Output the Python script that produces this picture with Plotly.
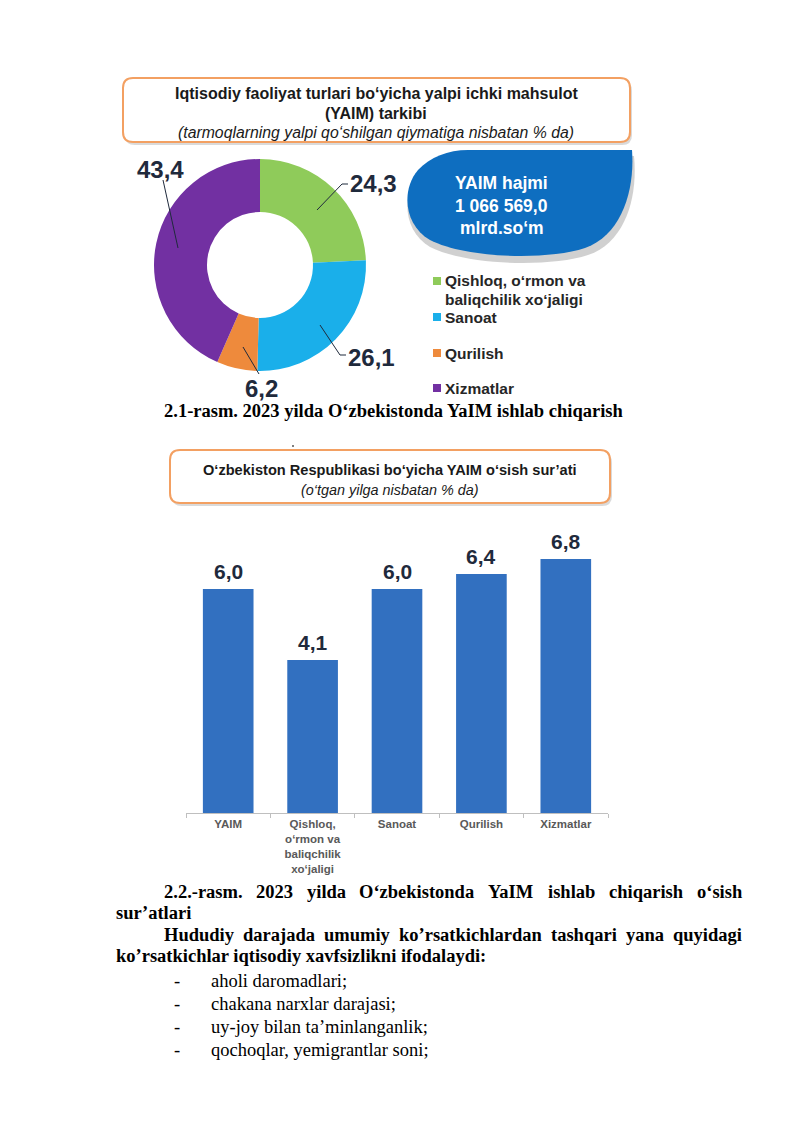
import plotly.graph_objects as go

W, H = 800, 1131


def X(px):
    return px / W


def Y(py):
    return 1 - py / H


# ---------------- data ----------------
pie_labels = ["Qishloq, o‘rmon va baliqchilik xo‘jaligi", "Sanoat", "Qurilish", "Xizmatlar"]
pie_values = [24.3, 26.1, 6.2, 43.4]
pie_colors = ["#8FCB5A", "#1AAFEA", "#EE8A3C", "#7230A2"]
legend_lines = [["Qishloq, o‘rmon va", "baliqchilik xo‘jaligi"], ["Sanoat"], ["Qurilish"], ["Xizmatlar"]]

bar_categories = ["YAIM", "Qishloq, o‘rmon va baliqchilik xo‘jaligi", "Sanoat", "Qurilish", "Xizmatlar"]
bar_values = [6.0, 4.1, 6.0, 6.4, 6.8]
bar_ticktext = ["YAIM", "Qishloq,<br>o‘rmon va<br>baliqchilik<br>xo‘jaligi", "Sanoat", "Qurilish", "Xizmatlar"]

gdp_volume_lines = ["YAIM hajmi", "1 066 569,0", "mlrd.so‘m"]

title1_lines = ["Iqtisodiy faoliyat turlari bo‘yicha yalpi ichki mahsulot", "(YAIM) tarkibi"]
title1_sub = "(tarmoqlarning yalpi qo‘shilgan qiymatiga nisbatan % da)"
title2 = "O‘zbekiston Respublikasi bo‘yicha YAIM o‘sish sur’ati"
title2_sub = "(o‘tgan yilga nisbatan % da)"

caption1 = "2.1-rasm. 2023 yilda O‘zbekistonda YaIM ishlab chiqarish"
caption2_line1 = "2.2.-rasm. 2023 yilda O‘zbekistonda YaIM ishlab chiqarish o‘sish"
caption2_line2 = "sur’atlari"
para_line1 = "Hududiy darajada umumiy ko’rsatkichlardan tashqari yana quyidagi"
para_line2 = "ko’rsatkichlar iqtisodiy xavfsizlikni ifodalaydi:"
bullets = ["aholi daromadlari;", "chakana narxlar darajasi;", "uy-joy bilan ta’minlanganlik;",
           "qochoqlar, yemigrantlar soni;"]


def fmt(v):
    return f"{v:.1f}".replace(".", ",")


SANS = "Liberation Sans"
SERIF = "Liberation Serif"
DARK = "#1F2A3C"

fig = go.Figure()

# ---------------- donut ----------------
fig.add_trace(go.Pie(
    labels=pie_labels, values=pie_values, hole=0.5, sort=False,
    direction="clockwise", rotation=0,
    marker=dict(colors=pie_colors, line=dict(width=0)),
    textinfo="none", showlegend=False, hoverinfo="label+value",
    domain=dict(x=[X(154), X(366)], y=[Y(371), Y(159)]),
))

# ---------------- bars ----------------
fig.add_trace(go.Bar(
    x=bar_categories, y=bar_values, marker=dict(color="#3270C0", line=dict(width=0)),
    showlegend=False, xaxis="x", yaxis="y",
))

shapes = []
annotations = []


def rrect_path(x0, y0, x1, y1, r):
    return (f"M {X(x0 + r)},{Y(y0)} L {X(x1 - r)},{Y(y0)} Q {X(x1)},{Y(y0)} {X(x1)},{Y(y0 + r)} "
            f"L {X(x1)},{Y(y1 - r)} Q {X(x1)},{Y(y1)} {X(x1 - r)},{Y(y1)} "
            f"L {X(x0 + r)},{Y(y1)} Q {X(x0)},{Y(y1)} {X(x0)},{Y(y1 - r)} "
            f"L {X(x0)},{Y(y0 + r)} Q {X(x0)},{Y(y0)} {X(x0 + r)},{Y(y0)} Z")


def poly_path(pts, closed=False):
    s = "M " + " L ".join(f"{X(a)},{Y(b)}" for a, b in pts)
    return s + (" Z" if closed else "")


def add_box(x0, y0, x1, y1):
    shapes.append(dict(type="path", xref="paper", yref="paper",
                       path=rrect_path(x0 + 2, y0 + 3, x1 + 2, y1 + 3, 10),
                       fillcolor="#DADADA", line=dict(width=0), layer="below"))
    shapes.append(dict(type="path", xref="paper", yref="paper",
                       path=rrect_path(x0, y0, x1, y1, 10),
                       fillcolor="white", line=dict(color="#F3A062", width=2), layer="below"))


def txt(x, y, text, size, family=SANS, color="#1A1A1A", bold=False, italic=False, xanchor="center"):
    annotations.append(dict(
        x=X(x), y=Y(y), xref="paper", yref="paper", text=text, showarrow=False,
        xanchor=xanchor, yanchor="middle", borderpad=0,
        font=dict(family=family, size=size, color=color,
                  weight="bold" if bold else "normal", style="italic" if italic else "normal"),
    ))


# title box 1
add_box(123, 78, 630, 142)
txt(376, 93, title1_lines[0], 16, bold=True)
txt(376, 113, title1_lines[1], 16, bold=True)
txt(376, 132, title1_sub, 15.8, italic=True)

# title box 2
add_box(170, 450, 610, 503)
txt(390, 470, title2, 14.6, bold=True)
txt(390, 490, title2_sub, 14.4, italic=True)

# small dot
shapes.append(dict(type="circle", xref="paper", yref="paper",
                   x0=X(292), x1=X(294), y0=Y(447), y1=Y(445),
                   fillcolor="#555", line=dict(width=0)))

# bubble with shadow
bubble_path = (f"M {X(468)},{Y(150)} L {X(632)},{Y(150)} "
               f"C {X(635)},{Y(190)} {X(622)},{Y(235)} {X(585)},{Y(248)} "
               f"C {X(545)},{Y(261)} {X(465)},{Y(258)} {X(430)},{Y(240)} "
               f"C {X(404)},{Y(225)} {X(401)},{Y(190)} {X(418)},{Y(170)} "
               f"C {X(430)},{Y(157)} {X(448)},{Y(150)} {X(468)},{Y(150)} Z")
shadow_path = (f"M {X(468)},{Y(156)} L {X(634)},{Y(156)} "
               f"C {X(638)},{Y(196)} {X(626)},{Y(242)} {X(588)},{Y(255)} "
               f"C {X(548)},{Y(268)} {X(465)},{Y(265)} {X(430)},{Y(247)} "
               f"C {X(404)},{Y(232)} {X(401)},{Y(196)} {X(418)},{Y(176)} "
               f"C {X(430)},{Y(163)} {X(448)},{Y(156)} {X(468)},{Y(156)} Z")
shapes.append(dict(type="path", xref="paper", yref="paper", path=shadow_path,
                   fillcolor="rgba(120,120,120,0.35)", line=dict(width=0), layer="below"))
shapes.append(dict(type="path", xref="paper", yref="paper", path=bubble_path,
                   fillcolor="#0E6EC0", line=dict(width=0), layer="below"))
for i, line in enumerate(gdp_volume_lines):
    txt(502, 183 + 22.5 * i, line, 17.5, color="white", bold=True)

# donut labels and leader lines
pie_label_pos = [  # (line points, label x, label y, anchor)
    ([(317, 210), (342, 184), (348, 184)], 349, 183, "left"),
    ([(320, 325), (340, 355), (346, 355)], 347, 357, "left"),
    ([(243, 347), (259, 374)], 261, 388, "center"),
    ([(178, 248), (163, 180)], 160, 169, "center"),
]
for v, (pts, lx, ly, anc) in zip(pie_values, pie_label_pos):
    shapes.append(dict(type="path", xref="paper", yref="paper", path=poly_path(pts),
                       line=dict(color=DARK, width=1)))
    txt(lx, ly, fmt(v), 24, color=DARK, bold=True, xanchor=anc)

# legend
legend_y = [281, 317, 353, 388]
for col, lines, ly in zip(pie_colors, legend_lines, legend_y):
    shapes.append(dict(type="rect", xref="paper", yref="paper",
                       x0=X(433), x1=X(441), y0=Y(ly + 4), y1=Y(ly - 4),
                       fillcolor=col, line=dict(width=0)))
    for j, ln in enumerate(lines):
        txt(444, ly + 18 * j, ln, 15.5, color="#262626", bold=True, xanchor="left")

# bar value labels
for c, v in zip(bar_categories, bar_values):
    annotations.append(dict(
        x=c, y=v, xref="x", yref="y", text=fmt(v), showarrow=False,
        yanchor="bottom", yshift=5, borderpad=0,
        font=dict(family=SANS, size=21, color=DARK, weight="bold"),
    ))

# ---------------- document text ----------------
TB = {" ": 250, "-": 333, ".": 250, ",": 250, ":": 333, "‘": 333, "’": 333,
      "A": 722, "H": 778, "I": 389, "M": 944, "O": 778, "Y": 722,
      "a": 500, "b": 556, "c": 444, "d": 556, "e": 444, "f": 333, "g": 500, "h": 556,
      "i": 278, "j": 333, "k": 556, "l": 278, "m": 833, "n": 556, "o": 500, "p": 556,
      "q": 556, "r": 444, "s": 389, "t": 333, "u": 556, "v": 500, "w": 722, "x": 500,
      "y": 500, "z": 444}
for dgt in "0123456789":
    TB[dgt] = 500

DOC_SIZE = 18.5


def word_w(s):
    return sum(TB.get(ch, 500) for ch in s) * DOC_SIZE / 1000


def justify(line, x0, x1, y):
    words = line.split(" ")
    total = sum(word_w(w) for w in words)
    gap = (x1 - x0 - total) / (len(words) - 1)
    x = x0
    for w in words:
        txt(x, y, w, DOC_SIZE, family=SERIF, color="black", bold=True, xanchor="left")
        x += word_w(w) + gap


txt(163, 411, caption1, DOC_SIZE, family=SERIF, color="black", bold=True, xanchor="left")
justify(caption2_line1, 163, 741, 892)
txt(115, 913, caption2_line2, DOC_SIZE, family=SERIF, color="black", bold=True, xanchor="left")
justify(para_line1, 163, 741, 935)
txt(115, 956, para_line2, DOC_SIZE, family=SERIF, color="black", bold=True, xanchor="left")
for i, b in enumerate(bullets):
    yy = 981 + 23 * i
    txt(177, yy, "-", DOC_SIZE, family=SERIF, color="black")
    txt(210, yy, b, DOC_SIZE, family=SERIF, color="black", xanchor="left")

fig.update_layout(
    width=W, height=H, autosize=False,
    margin=dict(l=0, r=0, t=0, b=0),
    paper_bgcolor="white", plot_bgcolor="white",
    bargap=0.4,
    separators=", ",
    xaxis=dict(domain=[X(186), X(608)], type="category",
               tickmode="array", tickvals=bar_categories, ticktext=bar_ticktext,
               showline=True, linecolor="#BFBFBF", linewidth=1,
               ticks="outside", tickson="boundaries", ticklen=4, tickcolor="#BFBFBF",
               tickfont=dict(family=SANS, size=11.5, color="#595959", weight="bold"),
               showgrid=False, zeroline=False, fixedrange=True),
    yaxis=dict(domain=[Y(813), Y(514.3)], range=[0, 8], visible=False,
               showgrid=False, zeroline=False, fixedrange=True),
    shapes=shapes,
    annotations=annotations,
)

fig.write_html("out.html", config={"displayModeBar": False},
               post_script="document.body.style.margin='0';")
